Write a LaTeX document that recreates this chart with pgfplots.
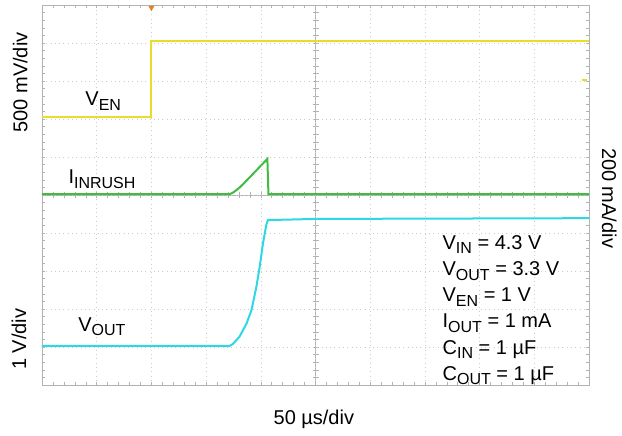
\documentclass[border=0pt]{standalone}
\usepackage{fontspec}
\setmainfont{Liberation Sans}
\usepackage{pgfplots}
\pgfplotsset{compat=1.18}
\definecolor{cyel}{RGB}{232,222,40}
\definecolor{cgrn}{RGB}{62,190,62}
\definecolor{ccyn}{RGB}{45,215,228}
\definecolor{corg}{RGB}{225,130,30}
\newcommand{\sub}[1]{\raisebox{-4.5pt}{\fontsize{16}{16}\selectfont #1}}
\begin{document}
\begin{tikzpicture}[x=1pt,y=1pt,font=\fontsize{20}{24}\selectfont]
\path[use as bounding box] (-42,-51) rectangle (580,385);
% center graticule lines with ticks
\draw[gray!60,line width=0.5pt] (273.5,0)--(273.5,380);
\draw[gray!60,line width=0.5pt] (0,190)--(547,190);
\foreach \i in {1,...,49} {
  \draw[gray!60,line width=0.5pt] (270.5,\i*7.6) -- (276.5,\i*7.6);
  \draw[gray!60,line width=0.5pt] (\i*10.94,187) -- (\i*10.94,193);
}
\begin{axis}[at={(0,0)},anchor=south west, scale only axis,
  width=547pt, height=380pt,
  xmin=0,xmax=10,ymin=0,ymax=10,
  xtick={0,...,10}, ytick={0,...,10},
  xticklabels={}, yticklabels={},
  minor x tick num=4, minor y tick num=4,
  tick align=inside, major tick length=3pt, minor tick length=3pt,
  tick style={gray!60, line width=0.5pt},
  grid=major,
  major grid style={gray!40, dash pattern=on 0.8pt off 3.5pt, line width=0.6pt},
  axis line style={gray!60, line width=0.6pt},
  clip=false]
\addplot[cgrn, line width=2pt] coordinates {(0,5.02)(3.43,5.02)(3.5,5.07)(3.6,5.18)(3.7,5.32)(4.12,5.95)(4.14,5.02)(10,5.02)};
\addplot[ccyn, line width=2pt] coordinates {(0,1.03)(3.43,1.03)(3.49,1.08)(3.61,1.27)(3.74,1.62)(3.83,1.97)(3.92,2.59)(3.98,3.11)(4.04,3.73)(4.10,4.21)(4.13,4.34)(5,4.37)(10,4.39)};
\addplot[cyel, line width=2pt] coordinates {(0,7.05)(2.0,7.05)(2.0,9.04)(10,9.04)};
\addplot[corg, only marks, mark=triangle*, mark size=3pt, mark options={rotate=180}] coordinates {(2.0,9.93)};
\addplot[cyel, line width=2pt] coordinates {(9.87,8.03)(9.97,8.03)};
\node[anchor=base west] at (axis cs:0.73,7.35) {V\sub{EN}};
\node[anchor=base west] at (axis cs:0.42,5.29) {I\sub{INRUSH}};
\node[anchor=base west] at (axis cs:0.6,1.42) {V\sub{OUT}};
\node[anchor=base west] at (axis cs:7.26,3.57) {V\sub{IN} = 4.3 V};
\node[anchor=base west] at (axis cs:7.26,2.88) {V\sub{OUT} = 3.3 V};
\node[anchor=base west] at (axis cs:7.26,2.19) {V\sub{EN} = 1 V};
\node[anchor=base west] at (axis cs:7.26,1.50) {I\sub{OUT} = 1 mA};
\node[anchor=base west] at (axis cs:7.26,0.81) {C\sub{IN} = 1 µF};
\node[anchor=base west] at (axis cs:7.26,0.12) {C\sub{OUT} = 1 µF};
\node[rotate=90] at (axis cs:-0.40,7.96) {500 mV/div};
\node[rotate=90] at (axis cs:-0.42,1.2) {1 V/div};
\node[rotate=-90] at (axis cs:10.37,4.92) {200 mA/div};
\node[anchor=base] at (axis cs:4.97,-1.05) {50 µs/div};
\end{axis}
\end{tikzpicture}
\end{document}
